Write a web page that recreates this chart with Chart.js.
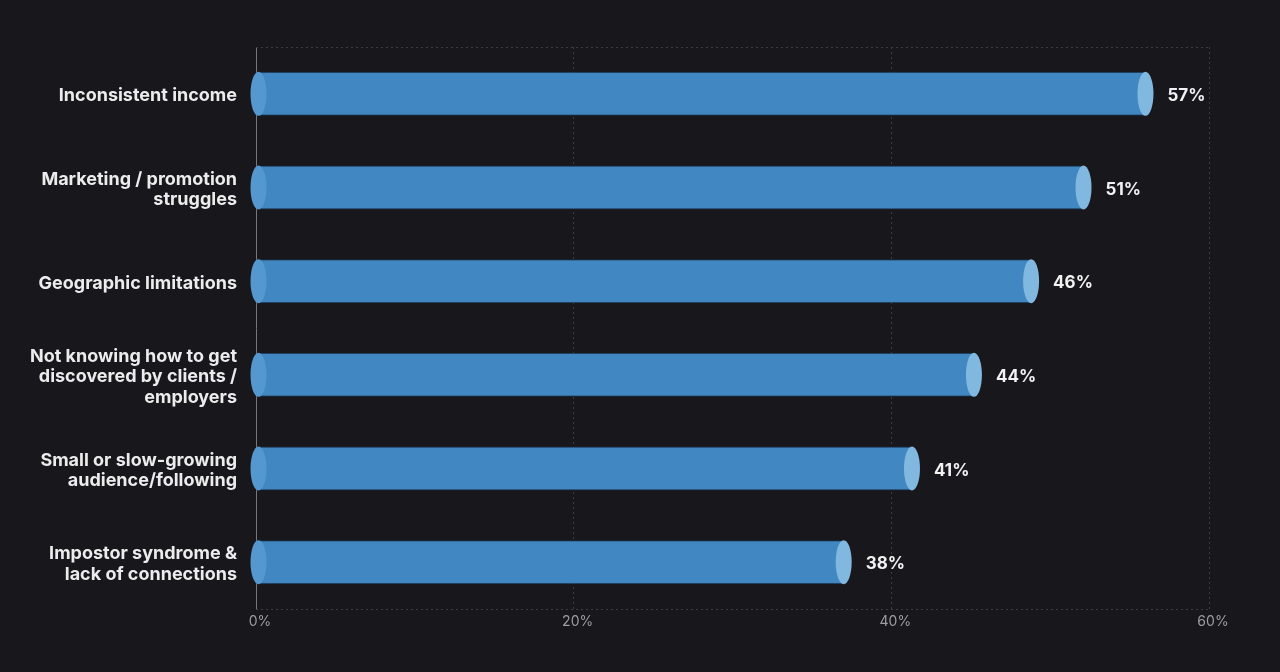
<!DOCTYPE html>
<html>
<head>
<meta charset="utf-8">
<script src="https://cdn.jsdelivr.net/npm/chart.js@4"></script>
<style>
  html, body { margin: 0; padding: 0; background: #18171c; }
  #wrap { width: 1280px; height: 672px; }
</style>
</head>
<body>
<div id="wrap"><canvas id="myChart" width="1280" height="672"></canvas></div>
<script>
// categories (multi-line labels as arrays)
const categories = [
    'Inconsistent income',
    ['Marketing / promotion', 'struggles'],
    'Geographic limitations',
    ['Not knowing how to get', 'discovered by clients /', 'employers'],
    ['Small or slow-growing', 'audience/following'],
    ['Impostor syndrome &', 'lack of connections']
];
// bar lengths as drawn in the picture (percent)
const barValues = [56, 52.1, 48.8, 45.2, 41.3, 37];
// value labels printed next to the bars
const labelValues = [57, 51, 46, 44, 41, 38];
const xTicks = [0, 20, 40, 60];

const gridColor = '#3c3c44';

function dottedLine(ctx, x1, x2, y) {
    ctx.save();
    ctx.strokeStyle = gridColor;
    ctx.lineWidth = 1;
    ctx.setLineDash([2, 3]);
    ctx.beginPath();
    ctx.moveTo(x1, y);
    ctx.lineTo(x2, y);
    ctx.stroke();
    ctx.restore();
}

// draws the cylinder caps, value labels and the dotted frame lines
const cylinderPlugin = {
    id: 'cylinders',
    beforeDatasetsDraw(chart) {
        const {ctx, chartArea} = chart;
        dottedLine(ctx, chartArea.left, chartArea.right, chartArea.top + 0.5);
        dottedLine(ctx, chartArea.left, chartArea.right, chartArea.bottom + 0.5);
    },
    afterDatasetsDraw(chart) {
        const ctx = chart.ctx;
        const meta = chart.getDatasetMeta(0);
        ctx.save();
        meta.data.forEach((bar, i) => {
            const p = bar.getProps(['x', 'y', 'base', 'height'], true);
            const ry = p.height / 2;
            const rx = 8;
            // left cap
            ctx.fillStyle = '#5498cf';
            ctx.beginPath();
            ctx.ellipse(p.base + 2, p.y, rx, ry, 0, 0, Math.PI * 2);
            ctx.fill();
            // right cap
            ctx.fillStyle = '#80b8e0';
            ctx.beginPath();
            ctx.ellipse(p.x, p.y, rx, ry, 0, 0, Math.PI * 2);
            ctx.fill();
            // value label
            ctx.fillStyle = '#f2f2f2';
            ctx.font = 'bold 17px Inter';
            ctx.textAlign = 'left';
            ctx.textBaseline = 'middle';
            ctx.fillText(labelValues[i] + '%', p.x + 22, p.y + 2);
        });
        ctx.restore();
    }
};

Chart.defaults.font.family = 'Inter';

var ctx = document.getElementById('myChart').getContext('2d');
const chart = new Chart(ctx, {
    type: 'bar',
    data: {
        labels: categories,
        datasets: [
            {
                data: barValues,
                backgroundColor: '#4187c1',
                borderColor: '#16314b',
                borderWidth: 1,
                borderSkipped: false,
                barPercentage: 0.94,
                categoryPercentage: 0.5
            }
        ]
    },
    options: {
        indexAxis: 'y',
        responsive: false,
        animation: false,
        layout: {
            padding: { top: 47, right: 71, bottom: 0, left: 0 }
        },
        plugins: {
            legend: { display: false },
            tooltip: { enabled: false }
        },
        scales: {
            x: {
                min: 0,
                max: 60,
                afterBuildTicks: scale => {
                    scale.ticks = xTicks.map(v => ({ value: v }));
                },
                afterFit: scale => { scale.height = 63; },
                grid: {
                    drawTicks: false,
                    color: c => (c.tick && c.tick.value === 0) ? 'transparent' : gridColor
                },
                // border.dash also sets the dash of the grid lines in v4
                border: { display: false, dash: [2, 3] },
                ticks: {
                    padding: 4,
                    labelOffset: 4,
                    color: '#9d9da3',
                    font: { size: 14 },
                    callback: v => v + '%'
                }
            },
            y: {
                afterFit: scale => { scale.width = 256; },
                grid: { display: false, drawTicks: false },
                border: { display: true, color: '#77777d' },
                ticks: {
                    padding: 19,
                    labelOffset: 2,
                    color: '#ececec',
                    font: { size: 18, weight: 'bold', lineHeight: 1.15 }
                }
            }
        }
    },
    plugins: [cylinderPlugin]
});
</script>
</body>
</html>
